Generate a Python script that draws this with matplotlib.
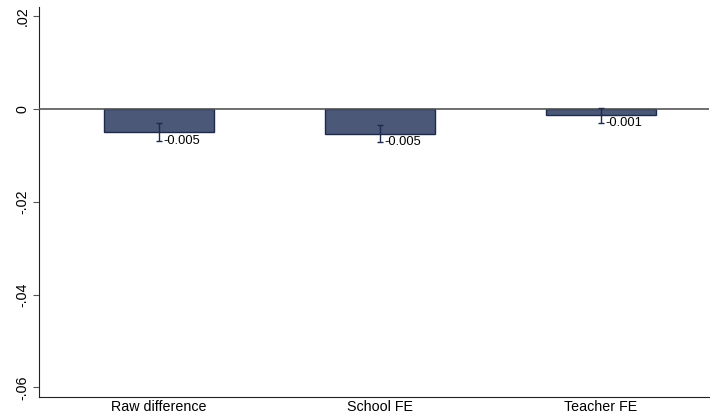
import matplotlib
matplotlib.use("Agg")
import matplotlib.pyplot as plt

categories = ["Raw difference", "School FE", "Teacher FE"]
estimates = [-0.0050, -0.0053, -0.0013]
ci_low = [-0.0068, -0.0072, -0.0030]
ci_high = [-0.0031, -0.0034, 0.0002]
labels = ["-0.005", "-0.005", "-0.001"]
yticks = [0.02, 0.0, -0.02, -0.04, -0.06]
yticklabels = [".02", "0", "-.02", "-.04", "-.06"]

plt.rcParams['font.family'] = ['Liberation Sans', 'DejaVu Sans']

fig = plt.figure(figsize=(7.1, 4.19), dpi=100)
ax = fig.add_axes([39/710, 1-397/419, 1-39/710 - 0.001, (397-7)/419])

x = [1, 2, 3]
ax.bar(x, estimates, width=0.5, color="#4c5878", edgecolor="#1c2a50", linewidth=1.0, zorder=2)
ax.axhline(0, color="#555555", linewidth=1.2, zorder=3)
for xi, lo, hi, lab in zip(x, ci_low, ci_high, labels):
    ax.errorbar([xi], [(lo+hi)/2], yerr=[[(hi-lo)/2], [(hi-lo)/2]], fmt='none',
                ecolor="#1c2a50", elinewidth=1.0, capsize=2.5, capthick=1.0, zorder=4)
    ax.text(xi + 0.02, lo, lab, fontsize=9.3, ha='left', va='center', color='black', zorder=5)

ax.set_xlim(0.457, 3.49)
ax.set_ylim(-0.0621, 0.022)
ax.set_xticks(x)
ax.set_xticklabels(categories, fontsize=10.3)
ax.set_yticks(yticks)
ax.set_yticklabels(yticklabels, fontsize=10.3, rotation=90, va='center')
ax.tick_params(axis='x', length=0, pad=2)
ax.tick_params(axis='y', length=4, pad=3, color="#555555")
for s in ['top', 'right']:
    ax.spines[s].set_visible(False)
ax.spines['left'].set_color("#222222")
ax.spines['bottom'].set_color("#222222")

fig.savefig("out.png", dpi=100)
